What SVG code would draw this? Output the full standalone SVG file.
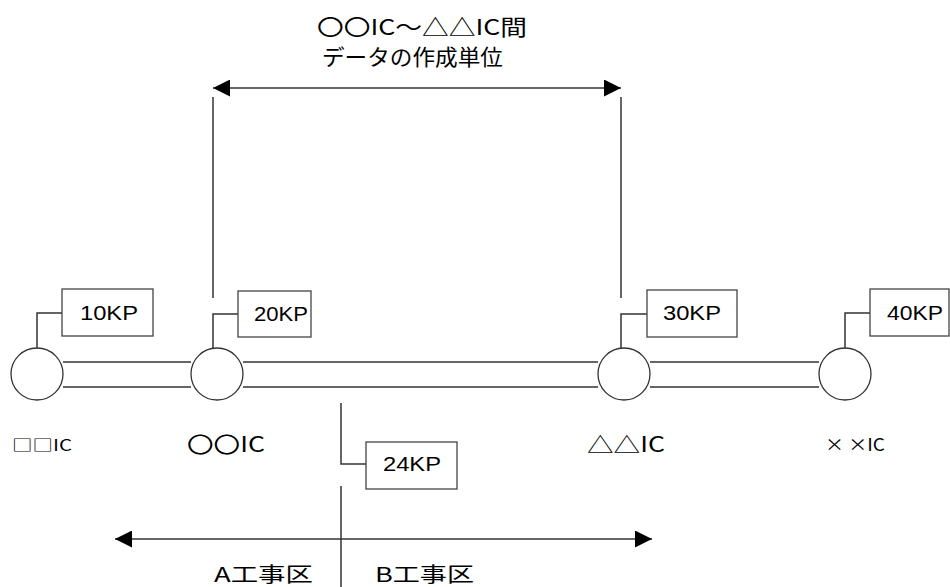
<svg xmlns="http://www.w3.org/2000/svg" width="950" height="587" viewBox="0 0 950 587">
<style>
.ln{stroke:#333;stroke-width:1.5;fill:none}
.bx{stroke:#444;stroke-width:1.3;fill:#fff}
.ci{stroke:#333;stroke-width:1.3;fill:#fff}
.t{font-family:"Liberation Sans","Noto Sans CJK JP",sans-serif;fill:#000}
.kp{font-size:20px}
.jp{font-family:"Noto Sans CJK JP","Liberation Sans",sans-serif;fill:#000}
</style>
<defs>
<marker id="ah" viewBox="0 0 10 10" refX="10" refY="5" markerWidth="25" markerHeight="17" markerUnits="userSpaceOnUse" orient="auto-start-reverse">
<path d="M0,0 L10,5 L0,10 Z" fill="#000"/>
</marker>
</defs>
<rect width="950" height="587" fill="#fff"/>
<g id="connectors">
<line class="ln" x1="63" y1="362" x2="191" y2="362"/>
<line class="ln" x1="63" y1="387" x2="191" y2="387"/>
<line class="ln" x1="243" y1="362" x2="598" y2="362"/>
<line class="ln" x1="243" y1="387" x2="598" y2="387"/>
<line class="ln" x1="650" y1="362" x2="819" y2="362"/>
<line class="ln" x1="650" y1="387" x2="819" y2="387"/>
<polyline class="ln" points="37,348 37,313 62,313"/>
<polyline class="ln" points="213,348 213,314 238,314"/>
<polyline class="ln" points="621,348 621,314 647,314"/>
<polyline class="ln" points="845,348 845,313 870,313"/>
<line class="ln" x1="213" y1="97" x2="213" y2="298"/>
<line class="ln" x1="621" y1="97" x2="621" y2="298"/>
<line class="ln" x1="213" y1="88" x2="621" y2="88" marker-start="url(#ah)" marker-end="url(#ah)"/>
<polyline class="ln" points="341,403 341,464 366,464"/>
<line class="ln" x1="341" y1="486" x2="341" y2="587"/>
<line class="ln" x1="115" y1="539" x2="652" y2="539" marker-start="url(#ah)" marker-end="url(#ah)"/>
</g>
<g id="title">
<text class="jp" x="317" y="35" font-size="22" textLength="210" lengthAdjust="spacingAndGlyphs">〇〇IC～△△IC間</text>
<text class="jp" x="322" y="65" font-size="22" textLength="181" lengthAdjust="spacingAndGlyphs">データの作成単位</text>
</g>
<g id="ic1"><circle class="ci" cx="37" cy="374" r="26"/><text class="jp" x="12" y="451" font-size="16" textLength="60" lengthAdjust="spacingAndGlyphs">□□IC</text></g>
<g id="ic2"><circle class="ci" cx="217" cy="374" r="26"/><text class="jp" x="187" y="452" font-size="21" textLength="78" lengthAdjust="spacingAndGlyphs">〇〇IC</text></g>
<g id="ic3"><circle class="ci" cx="624" cy="374" r="26"/><text class="jp" x="587" y="452" font-size="21" textLength="78" lengthAdjust="spacingAndGlyphs">△△IC</text></g>
<g id="ic4"><circle class="ci" cx="845" cy="374" r="26"/><text class="jp" x="825" y="451" font-size="17" textLength="60" lengthAdjust="spacingAndGlyphs">× ×IC</text></g>
<g id="kp10"><rect class="bx" x="62" y="289" width="91" height="47"/><text class="t kp" x="80" y="320" textLength="58" lengthAdjust="spacingAndGlyphs">10KP</text></g>
<g id="kp20"><rect class="bx" x="238" y="291" width="73" height="46"/><text class="t kp" x="254" y="321" textLength="54" lengthAdjust="spacingAndGlyphs">20KP</text></g>
<g id="kp30"><rect class="bx" x="647" y="290" width="90" height="47"/><text class="t kp" x="663" y="320" textLength="58" lengthAdjust="spacingAndGlyphs">30KP</text></g>
<g id="kp40"><rect class="bx" x="870" y="289" width="79" height="47"/><text class="t kp" x="887" y="320" textLength="56" lengthAdjust="spacingAndGlyphs">40KP</text></g>
<g id="kp24"><rect class="bx" x="366" y="442" width="91" height="47"/><text class="t kp" x="383" y="471" textLength="58" lengthAdjust="spacingAndGlyphs">24KP</text></g>
<g id="zones">
<text class="jp" x="214" y="582" font-size="20" textLength="99" lengthAdjust="spacingAndGlyphs">A工事区</text>
<text class="jp" x="375" y="582" font-size="20" textLength="99" lengthAdjust="spacingAndGlyphs">B工事区</text>
</g>
</svg>
